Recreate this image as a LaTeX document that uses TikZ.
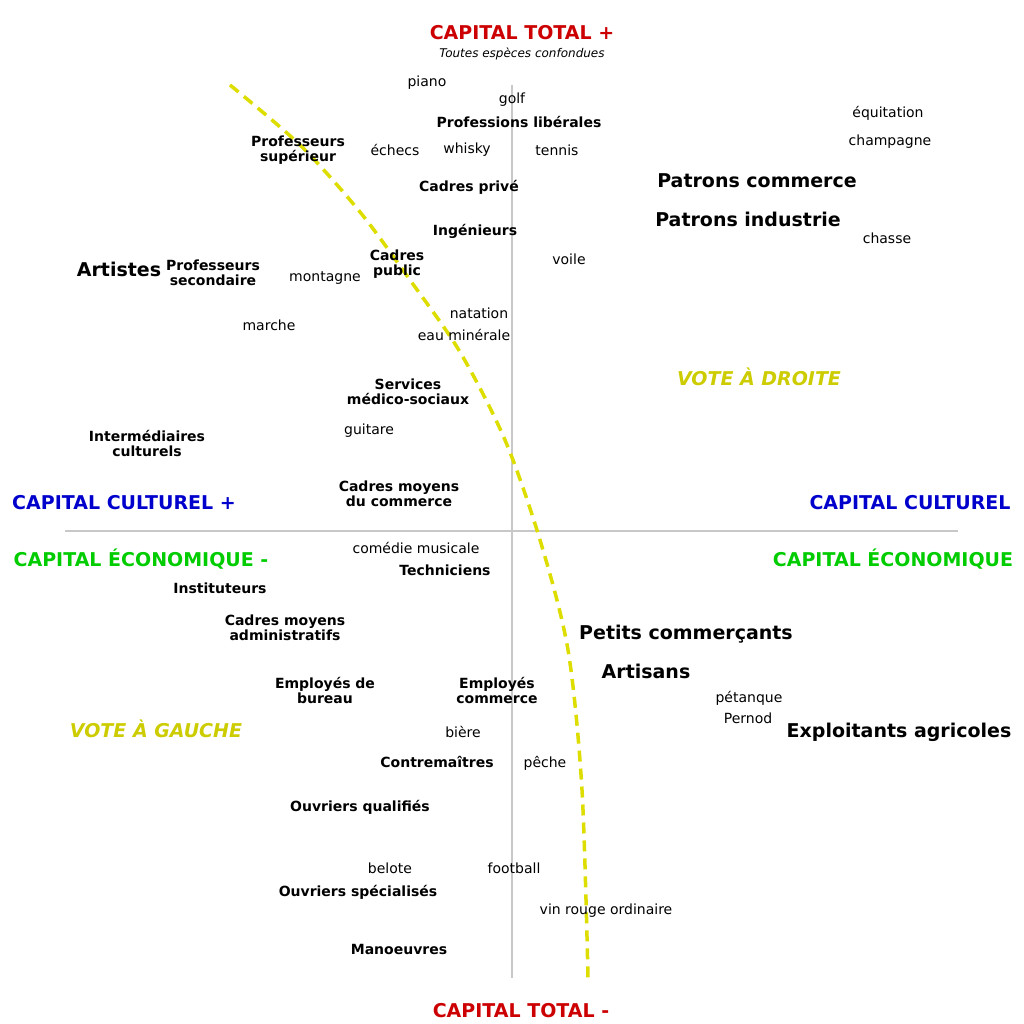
\documentclass[tikz,border=0pt]{standalone}
\usepackage{fontspec}
\setmainfont{DejaVu Sans}
\usetikzlibrary{positioning}
\definecolor{totred}{RGB}{204,0,0}
\definecolor{culblue}{RGB}{0,0,204}
\definecolor{ecogreen}{RGB}{0,204,0}
\definecolor{voteyel}{RGB}{204,204,0}
\definecolor{lineyel}{RGB}{221,221,0}
\definecolor{axisgrey}{RGB}{200,200,200}
\begin{document}
\begin{tikzpicture}
[
    x=1pt, y=-1pt,
    taste/.style={font=\fontsize{14}{14}\selectfont, inner sep=0pt},
    job/.style={font=\fontsize{14}{15}\selectfont\bfseries, align=center, inner sep=0pt},
    bigjob/.style={font=\fontsize{19}{19}\selectfont\bfseries, inner sep=0pt},
    axis_title/.style={font=\fontsize{19}{19}\selectfont\bfseries, inner sep=0pt},
    vote/.style={font=\fontsize{19}{19}\selectfont\bfseries\itshape, text=voteyel, inner sep=0pt},
]
    \useasboundingbox (0,0) rectangle (1024,1024);
    % axes
    \coordinate (left) at (65,531);
    \coordinate (right) at (958,531);
    \coordinate (top) at (512,85);
    \coordinate (bottom) at (512,978);
    \draw[axisgrey, line width=2.5pt] (left) -- (right);
    \draw[axisgrey, line width=2.5pt] (top) -- (bottom);
    % vote divide
    \draw[lineyel, line width=3.5pt, dash pattern=on 11pt off 7pt]
        plot[smooth, tension=0.5] coordinates {(230,85) (300,145) (360,212) (410,280) (460,352) (505,440) (540,540) (568,650) (582,790) (588,978)};
    % axis titles
    \node[axis_title, text=totred] (tplus) at (522,33) {CAPITAL TOTAL +};
    \node[font=\fontsize{12}{12}\selectfont\itshape, inner sep=0pt] (tsub) at (522,54) {Toutes espèces confondues};
    \node[axis_title, text=totred] (tminus) at (521,1011) {CAPITAL TOTAL -};
    \node[axis_title, text=culblue] (cplus) at (124,503) {CAPITAL CULTUREL +};
    \node[axis_title, text=culblue] (cminus) at (910,503) {CAPITAL CULTUREL};
    \node[axis_title, text=ecogreen] (eminus) at (141,559) {CAPITAL ÉCONOMIQUE -};
    \node[axis_title, text=ecogreen] (eplus) at (893,559) {CAPITAL ÉCONOMIQUE};
    \node[vote] (vdroite) at (759,377) {VOTE À DROITE};
    \node[vote] (vgauche) at (156,729) {VOTE À GAUCHE};
    % tastes
    \node[taste] (piano) at (427,83) {piano};
    \node[taste] (golf) at (512,100) {golf};
    \node[taste] (equitation) at (888,113) {équitation};
    \node[taste] (champagne) at (890,142) {champagne};
    \node[taste] (echecs) at (395,150) {échecs};
    \node[taste] (whisky) at (467,150) {whisky};
    \node[taste] (tennis) at (557,150) {tennis};
    \node[taste] (chasse) at (887,238) {chasse};
    \node[taste] (voile) at (569,259) {voile};
    \node[taste] (montagne) at (325,278) {montagne};
    \node[taste] (marche) at (269,325) {marche};
    \node[taste] (natation) at (479,313) {natation};
    \node[taste] (eau) at (464,335) {eau minérale};
    \node[taste] (guitare) at (369,431) {guitare};
    \node[taste] (comedie) at (416,548) {comédie musicale};
    \node[taste] (petanque) at (749,698) {pétanque};
    \node[taste] (pernod) at (748,718) {Pernod};
    \node[taste] (biere) at (463,732) {bière};
    \node[taste] (peche) at (545,763) {pêche};
    \node[taste] (belote) at (390,868) {belote};
    \node[taste] (football) at (514,868) {football};
    \node[taste] (vin) at (606,911) {vin rouge ordinaire};
    % occupations
    \node[job] (liberales) at (519,122) {Professions libérales};
    \node[job] (profsup) at (298,150) {Professeurs\\supérieur};
    \node[job] (cprive) at (469,187) {Cadres privé};
    \node[job] (ingenieurs) at (475,231) {Ingénieurs};
    \node[job] (profsec) at (213,273) {Professeurs\\secondaire};
    \node[job] (cpublic) at (397,264) {Cadres\\public};
    \node[job] (services) at (408,392) {Services\\médico-sociaux};
    \node[job] (intermed) at (147,443) {Intermédiaires\\culturels};
    \node[job] (cmcom) at (399,494) {Cadres moyens\\du commerce};
    \node[job] (techniciens) at (445,570) {Techniciens};
    \node[job] (instituteurs) at (220,588) {Instituteurs};
    \node[job] (cmadm) at (285,628) {Cadres moyens\\administratifs};
    \node[job] (empbureau) at (325,690) {Employés de\\bureau};
    \node[job] (empcom) at (497,690) {Employés\\commerce};
    \node[job] (contremaitres) at (437,762) {Contremaîtres};
    \node[job] (oq) at (360,807) {Ouvriers qualifiés};
    \node[job] (os) at (358,892) {Ouvriers spécialisés};
    \node[job] (manoeuvres) at (399,949) {Manoeuvres};
    \node[bigjob] (patcom) at (757,181) {Patrons commerce};
    \node[bigjob] (patind) at (748,219) {Patrons industrie};
    \node[bigjob] (artistes) at (119,269) {Artistes};
    \node[bigjob] (petitscom) at (686,634) {Petits commerçants};
    \node[bigjob] (artisans) at (646,671) {Artisans};
    \node[bigjob] (exploitants) at (899,732) {Exploitants agricoles};
\end{tikzpicture}
\end{document}
